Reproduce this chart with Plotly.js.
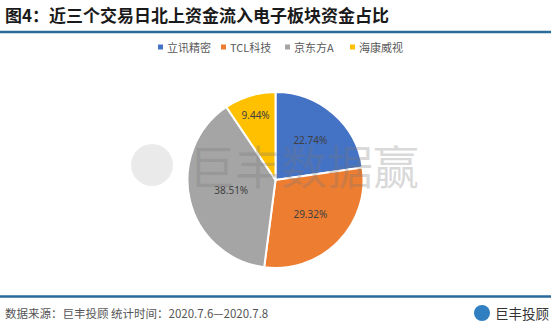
<!DOCTYPE html>
<html><head><meta charset="utf-8">
<script src="https://cdn.plot.ly/plotly-3.0.1.min.js"></script>
<style>html,body{margin:0;padding:0;background:#fff}#chart{width:555px;height:331px}</style>
</head><body><div id="chart"></div>
<script>
const categories = ["立讯精密", "TCL科技", "京东方A", "海康威视"];
const shares = [22.74, 29.32, 38.51, 9.44];
const colors = ["#4472C4", "#ED7D31", "#A5A5A5", "#FFC000"];

const W = 555, H = 331;
const px = x => x / W, py = y => 1 - y / H;
const cx = 275.5, cy = 180, r = 88;

const trace = {
  type: "pie",
  labels: categories,
  values: shares,
  sort: false,
  direction: "clockwise",
  rotation: 0,
  marker: {colors: colors, line: {color: "#ffffff", width: 2}},
  texttemplate: "%{value:.2f}%",
  textinfo: "text",
  textposition: "inside",
  insidetextorientation: "horizontal",
  textfont: {family: "Noto Sans, sans-serif", size: 10, color: "#404040"},
  hoverinfo: "none",
  showlegend: false,
  domain: {x: [px(cx - r), px(cx + r)], y: [py(cy + r), py(cy - r)]}
};

const shapes = [
  {type: "line", xref: "paper", yref: "paper", x0: 0, x1: px(551), y0: py(32), y1: py(32), line: {color: "#2a6a9a", width: 2.5}},
  {type: "line", xref: "paper", yref: "paper", x0: 0, x1: px(551), y0: py(296.5), y1: py(296.5), line: {color: "#2a6a9a", width: 2.5}},
  {type: "circle", xref: "paper", yref: "paper", x0: px(131), x1: px(173), y0: py(186), y1: py(144), line: {width: 0}, fillcolor: "rgba(150,150,150,0.2)"},
  {type: "circle", xref: "paper", yref: "paper", x0: px(474), x1: px(490), y0: py(321), y1: py(305), line: {width: 0}, fillcolor: "#2f7fc1"}
];

const annotations = [
  {text: "<b>图4：近三个交易日北上资金流入电子板块资金占比</b>", xref: "paper", yref: "paper", x: px(3), y: py(15), xanchor: "left", yanchor: "middle", showarrow: false,
   font: {family: "Noto Sans CJK SC, sans-serif", size: 17, color: "#1a1a1a"}},
  {text: "巨丰数据赢", xref: "paper", yref: "paper", x: px(304), y: py(164), xanchor: "center", yanchor: "middle", showarrow: false,
   font: {family: "Noto Sans CJK SC, sans-serif", size: 46, color: "rgba(120,120,120,0.28)"}},
  {text: "数据来源：巨丰投顾 统计时间：2020.7.6—2020.7.8", xref: "paper", yref: "paper", x: px(3), y: py(313), xanchor: "left", yanchor: "middle", showarrow: false,
   font: {family: "Noto Sans CJK SC, sans-serif", size: 11.5, color: "#555555"}},
  {text: "巨丰投顾", xref: "paper", yref: "paper", x: px(551), y: py(313), xanchor: "right", yanchor: "middle", showarrow: false,
   font: {family: "Noto Sans CJK SC, sans-serif", size: 13.5, color: "#333333"}}
];

// custom compact legend built from categories and colors
const legendX = [158, 221, 285, 350];
const legendY = 47;
categories.forEach((c, i) => {
  shapes.push({type: "rect", xref: "paper", yref: "paper",
    x0: px(legendX[i]), x1: px(legendX[i] + 5), y0: py(legendY + 2.5), y1: py(legendY - 2.5),
    line: {width: 0}, fillcolor: colors[i]});
  annotations.push({text: c, xref: "paper", yref: "paper", x: px(legendX[i] + 7), y: py(legendY),
    xanchor: "left", yanchor: "middle", showarrow: false,
    font: {family: "Noto Sans CJK SC, sans-serif", size: 11, color: "#595959"}});
});

const layout = {
  width: W, height: H,
  margin: {l: 0, r: 0, t: 0, b: 0},
  paper_bgcolor: "#ffffff",
  showlegend: false,
  shapes: shapes,
  annotations: annotations
};

Plotly.newPlot("chart", [trace], layout, {displayModeBar: false, staticPlot: true});
</script></body></html>
